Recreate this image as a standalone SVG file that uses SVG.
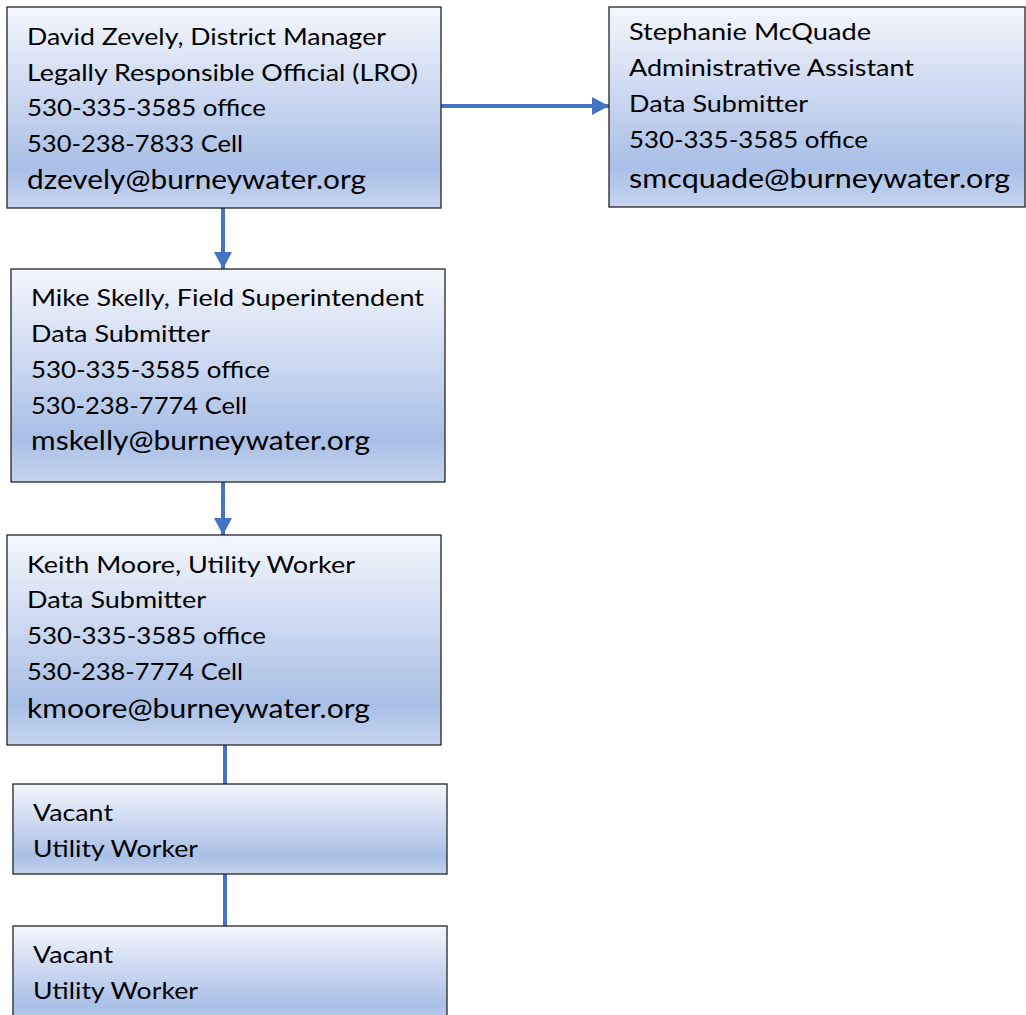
<svg xmlns="http://www.w3.org/2000/svg" width="1026" height="1015" viewBox="0 0 1026 1015">
<defs>
<linearGradient id="g" x1="0" y1="0" x2="0" y2="1">
<stop offset="0" stop-color="#f4f6fc"/>
<stop offset="0.8" stop-color="#a9bfe6"/>
<stop offset="1" stop-color="#c6d5ef"/>
</linearGradient>
<marker id="ah" markerUnits="userSpaceOnUse" markerWidth="18" markerHeight="18" refX="17" refY="9" orient="auto">
<path d="M0,0 L17,9 L0,18 Z" fill="#4472c4"/>
</marker>
<style>
.box{fill:url(#g);stroke:#262626;stroke-width:1.3}
.t{font-family:Lato,"Open Sans","Liberation Sans",sans-serif;font-size:24px;fill:#000}
.e{font-size:26px}
.c{stroke:#4472c4;stroke-width:4;fill:none}
</style>
</defs>
<g id="connectors">
<line class="c" x1="441" y1="106" x2="609" y2="106" marker-end="url(#ah)"/>
<line class="c" x1="223" y1="208" x2="223" y2="269" marker-end="url(#ah)"/>
<line class="c" x1="223" y1="482" x2="223" y2="535" marker-end="url(#ah)"/>
<line class="c" x1="225" y1="742" x2="225" y2="784"/>
<line class="c" x1="225" y1="874" x2="225" y2="926"/>
</g>
<g id="n1">
<rect class="box" x="7" y="7" width="434" height="201"/>
<text class="t" x="27" y="45" textLength="359" lengthAdjust="spacingAndGlyphs">David Zevely, District Manager</text>
<text class="t" x="27" y="81" textLength="391" lengthAdjust="spacingAndGlyphs">Legally Responsible Official (LRO)</text>
<text class="t" x="27" y="116" textLength="239" lengthAdjust="spacingAndGlyphs">530-335-3585 office</text>
<text class="t" x="27" y="152" textLength="216" lengthAdjust="spacingAndGlyphs">530-238-7833 Cell</text>
<text class="t e" x="27" y="189" textLength="339" lengthAdjust="spacingAndGlyphs">dzevely@burneywater.org</text>
</g>
<g id="n2">
<rect class="box" x="609" y="7" width="416" height="200"/>
<text class="t" x="629" y="40" textLength="242" lengthAdjust="spacingAndGlyphs">Stephanie McQuade</text>
<text class="t" x="629" y="76" textLength="285" lengthAdjust="spacingAndGlyphs">Administrative Assistant</text>
<text class="t" x="629" y="112" textLength="179" lengthAdjust="spacingAndGlyphs">Data Submitter</text>
<text class="t" x="629" y="148" textLength="239" lengthAdjust="spacingAndGlyphs">530-335-3585 office</text>
<text class="t e" x="629" y="188" textLength="381" lengthAdjust="spacingAndGlyphs">smcquade@burneywater.org</text>
</g>
<g id="n3">
<rect class="box" x="11" y="269" width="434" height="213"/>
<text class="t" x="31" y="306" textLength="393" lengthAdjust="spacingAndGlyphs">Mike Skelly, Field Superintendent</text>
<text class="t" x="31" y="342" textLength="179" lengthAdjust="spacingAndGlyphs">Data Submitter</text>
<text class="t" x="31" y="378" textLength="239" lengthAdjust="spacingAndGlyphs">530-335-3585 office</text>
<text class="t" x="31" y="414" textLength="216" lengthAdjust="spacingAndGlyphs">530-238-7774 Cell</text>
<text class="t e" x="31" y="450" textLength="339" lengthAdjust="spacingAndGlyphs">mskelly@burneywater.org</text>
</g>
<g id="n4">
<rect class="box" x="7" y="535" width="434" height="210"/>
<text class="t" x="27" y="573" textLength="328" lengthAdjust="spacingAndGlyphs">Keith Moore, Utility Worker</text>
<text class="t" x="27" y="608" textLength="179" lengthAdjust="spacingAndGlyphs">Data Submitter</text>
<text class="t" x="27" y="644" textLength="239" lengthAdjust="spacingAndGlyphs">530-335-3585 office</text>
<text class="t" x="27" y="680" textLength="216" lengthAdjust="spacingAndGlyphs">530-238-7774 Cell</text>
<text class="t e" x="27" y="718" textLength="343" lengthAdjust="spacingAndGlyphs">kmoore@burneywater.org</text>
</g>
<g id="n5">
<rect class="box" x="13" y="784" width="434" height="90"/>
<text class="t" x="33" y="821" textLength="80" lengthAdjust="spacingAndGlyphs">Vacant</text>
<text class="t" x="33" y="857" textLength="165" lengthAdjust="spacingAndGlyphs">Utility Worker</text>
</g>
<g id="n6">
<rect class="box" x="13" y="926" width="434" height="100"/>
<text class="t" x="33" y="963" textLength="80" lengthAdjust="spacingAndGlyphs">Vacant</text>
<text class="t" x="33" y="999" textLength="165" lengthAdjust="spacingAndGlyphs">Utility Worker</text>
</g>
</svg>
